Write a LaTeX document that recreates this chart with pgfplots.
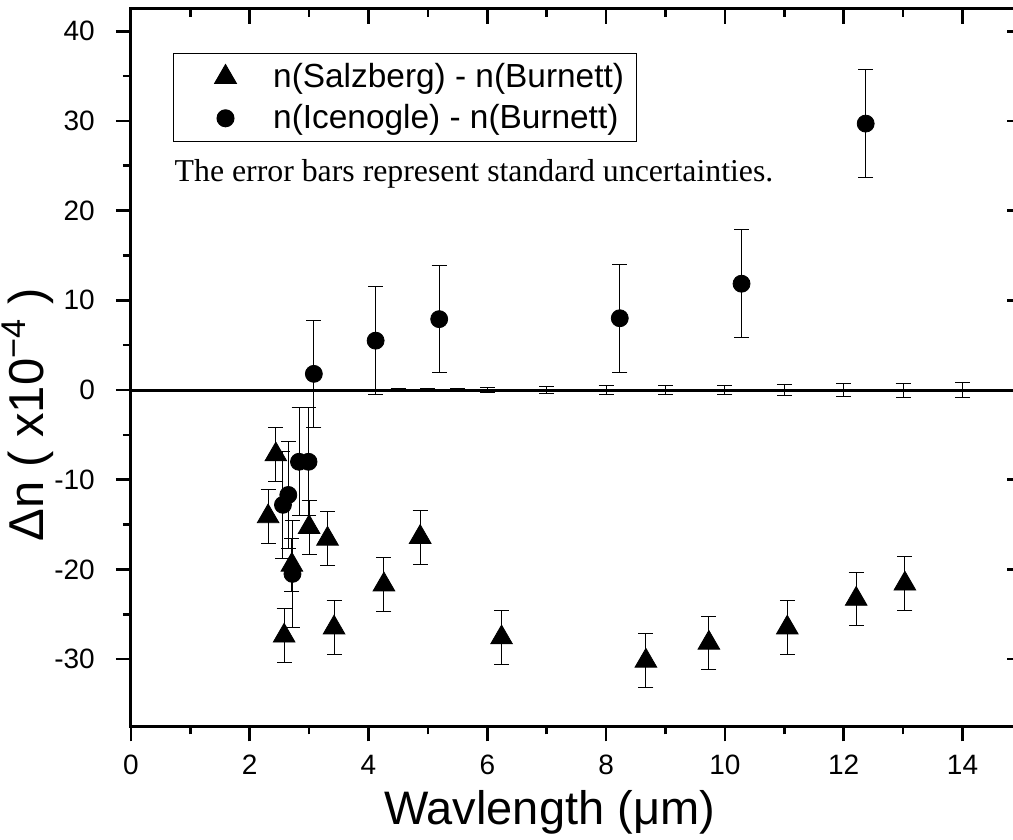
\documentclass[border=0pt]{standalone}
\usepackage{pgfplots}
\pgfplotsset{compat=1.18}
\usepackage{fontspec}
\setmainfont{Liberation Sans}
\newfontfamily\timesfont{Liberation Serif}
\begin{document}
\begin{tikzpicture}
\pgfplotsset{
  common/.style={
    scale only axis,
    width=445.5pt, height=358.8pt,
    xmin=0, xmax=15, ymin=-37.5, ymax=42.5,
    xtick={0,2,...,14}, minor x tick num=1,
    ytick={-30,-20,...,40}, minor y tick num=1,
    major tick length=7.5pt, minor tick length=4pt,
    tick style={line width=1.3pt, black},
    axis line style={line width=1.4pt},
    /pgf/number format/assume math mode=true,
  },
  mleg/.style={legend image code/.code={\path[draw=none, fill=none] (0pt,-1pt) rectangle (43.85pt,1pt); \draw[##1, only marks] plot coordinates {(23pt,0pt)};}},
}
\begin{axis}[common,
  tick align=outside, xtick pos=left, ytick pos=left,
  ticklabel style={font=\fontsize{14}{16}\selectfont},
  xticklabel style={yshift=-3.5pt},
  yticklabel style={xshift=-7pt},
  xlabel={Wavlength (μm)},
  ylabel={Δn ( x10\textsuperscript{\char"2212 4} )},
  xlabel style={font=\fontsize{23.5}{26}\selectfont, at={(rel axis cs:0.4698,-0.1193)}, anchor=center},
  ylabel style={font=\fontsize{24.5}{27}\selectfont, at={(rel axis cs:-0.1155,0.434)}, anchor=center},
  legend style={at={(rel axis cs:0.04725,0.9384)}, anchor=north west, draw=black, line width=0.5pt,
    font=\fontsize{16.7}{19}\selectfont, inner xsep=3pt, inner ysep=1.5pt, row sep=0pt,
    nodes={inner xsep=3pt, inner ysep=3.5pt}},
  legend cell align=left,
  error bars/error bar style={line width=0.5pt, black},
  error bars/error mark options={rotate=90, mark size=3.75pt, line width=0.5pt, black},
]
\addplot[line width=1.5pt, black, forget plot] coordinates {(0,0) (15,0)};
\addplot[draw=none, mark=none, forget plot,
  error bars/.cd, y dir=both, y explicit] table[x=x, y=y, y error=e] {
x y e
2.2 0 0.05
2.3 0 0.05
2.4 0 0.05
2.5 0 0.05
3.0 0 0.05
3.4 0 0.06
4.0 0 0.1
4.5 0 0.12
5.0 0 0.15
5.5 0 0.2
6.0 0 0.25
7.0 0 0.35
8.0 0 0.45
9.0 0 0.5
10.0 0 0.55
11.0 0 0.63
12.0 0 0.7
13.0 0 0.78
14.0 0 0.84
};
\addplot[only marks, mark=triangle*, mark size=6.25pt, black, mark options={fill=black}, mleg,
  error bars/.cd, y dir=both, y explicit] table[x=x, y=y, y error=e] {
x y e
2.31 -14.1 3
2.44 -7.2 3
2.58 -27.4 3
2.71 -19.5 3
3.00 -15.3 3
3.31 -16.6 3
3.42 -26.5 3
4.26 -21.7 3
4.87 -16.4 3
6.24 -27.6 3
8.67 -30.2 3
9.73 -28.2 3
11.05 -26.5 3
12.21 -23.3 3
13.03 -21.6 3
};
\addlegendentry{n(Salzberg) - n(Burnett)}
\addplot[only marks, mark=*, mark size=4.25pt, black, mark options={fill=black}, mleg,
  error bars/.cd, y dir=both, y explicit] table[x=x, y=y, y error=e] {
x y e
2.56 -12.8 6
2.65 -11.7 6
2.72 -20.5 6
2.83 -8.0 6
2.99 -8.0 6
3.08 1.8 6
4.12 5.5 6
5.19 7.9 6
8.23 8.0 6
10.28 11.85 6
12.37 29.7 6
};
\addlegendentry{n(Icenogle) - n(Burnett)}
\node[anchor=base west, inner sep=0pt, font=\timesfont\fontsize{15.9}{18}\selectfont]
  at (rel axis cs:0.0487,0.759) {The error bars represent standard uncertainties.};
\coordinate (BBL) at (rel axis cs:-0.14691,-0.1583);
\coordinate (BTR) at (rel axis cs:0.99001,1.01226);
\end{axis}
\begin{axis}[common,
  tick align=inside, xtick pos=right, ytick pos=right,
  xticklabels={}, yticklabels={},
]
\end{axis}
\pgfresetboundingbox
\useasboundingbox (BBL) rectangle (BTR);
\end{tikzpicture}
\end{document}
